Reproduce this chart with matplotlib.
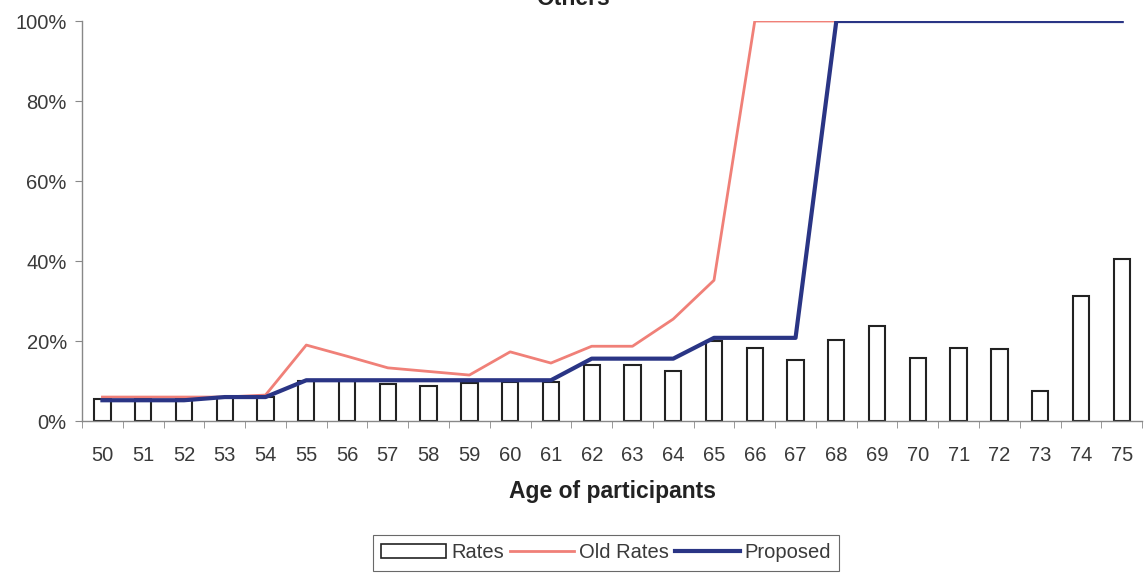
import numpy as np
import matplotlib.pyplot as plt
from matplotlib.ticker import FuncFormatter, FixedLocator
from matplotlib.patches import Patch
from matplotlib.lines import Line2D

plt.rcParams['font.family'] = ['Liberation Sans', 'DejaVu Sans']

ages = list(range(50, 76))
rates = [5.5, 5.5, 5.5, 6.0, 6.0, 10.0, 10.0, 9.2, 8.7, 9.5, 9.8, 9.8, 14.0,
         14.0, 12.5, 20.0, 18.2, 15.2, 20.2, 23.7, 15.8, 18.3, 17.9, 7.4, 31.3, 40.5]
old_rates = [6.0, 6.0, 6.0, 6.0, 6.5, 19.0, 16.2, 13.3, 12.4, 11.5, 17.3, 14.5, 18.7,
             18.7, 25.5, 35.2, 100, 100, 100, 100, 100, 100, 100, 100, 100, 100]
proposed = [5.2, 5.2, 5.2, 6.0, 6.0, 10.2, 10.2, 10.2, 10.2, 10.2, 10.2, 10.2, 15.6,
            15.6, 15.6, 20.8, 20.8, 20.8, 100, 100, 100, 100, 100, 100, 100, 100]

fig = plt.figure(figsize=(11.46, 5.76), dpi=100)
ax = fig.add_axes([0.0716, 0.269, 0.925, 0.6945])

x = np.arange(len(ages))
ax.bar(x, rates, width=0.4, facecolor='white', edgecolor='#222222', linewidth=1.5, zorder=2)
ax.plot(x, old_rates, color='#f08078', linewidth=2, zorder=3)
ax.plot(x, proposed, color='#2a3585', linewidth=3, zorder=4)

ax.set_xlim(-0.5, len(ages) - 0.5)
ax.set_ylim(0, 100)
ax.set_yticks([0, 20, 40, 60, 80, 100])
ax.yaxis.set_major_formatter(FuncFormatter(lambda v, p: '%d%%' % v))
ax.set_xticks(x)
ax.set_xticklabels([str(a) for a in ages])
ax.xaxis.set_minor_locator(FixedLocator(np.arange(-0.5, len(ages), 1.0)))
ax.tick_params(axis='x', which='major', length=0, pad=18, labelsize=14.5, labelcolor='#3a3a3a')
ax.tick_params(axis='x', which='minor', length=5, direction='out', color='#888888')
ax.tick_params(axis='y', length=5, color='#888888', labelsize=14.5, labelcolor='#3a3a3a', pad=6)

for side in ('top', 'right'):
    ax.spines[side].set_visible(False)
for side in ('left', 'bottom'):
    ax.spines[side].set_color('#888888')
    ax.spines[side].set_linewidth(1)

ax.set_xlabel('Age of participants', fontsize=16.5, fontweight='bold', color='#222222', labelpad=11)
fig.text(0.5, 0.991, 'Others', ha='center', va='baseline', fontsize=16.5,
         fontweight='bold', color='#222222')

handles = [Patch(facecolor='white', edgecolor='#222222', linewidth=1.2),
           Line2D([], [], color='#f08078', linewidth=2),
           Line2D([], [], color='#2a3585', linewidth=3)]
leg = fig.legend(handles, ['Rates', 'Old Rates', 'Proposed'], loc='center',
                 bbox_to_anchor=(0.529, 0.04), ncol=3, fontsize=14.5, frameon=True,
                 fancybox=False, edgecolor='#444444', handlelength=3.2,
                 handletextpad=0.25, columnspacing=0.3, borderpad=0.4)
leg.get_frame().set_linewidth(0.8)
for t in leg.get_texts():
    t.set_color('#3a3a3a')

fig.savefig('out.png', dpi=100)
